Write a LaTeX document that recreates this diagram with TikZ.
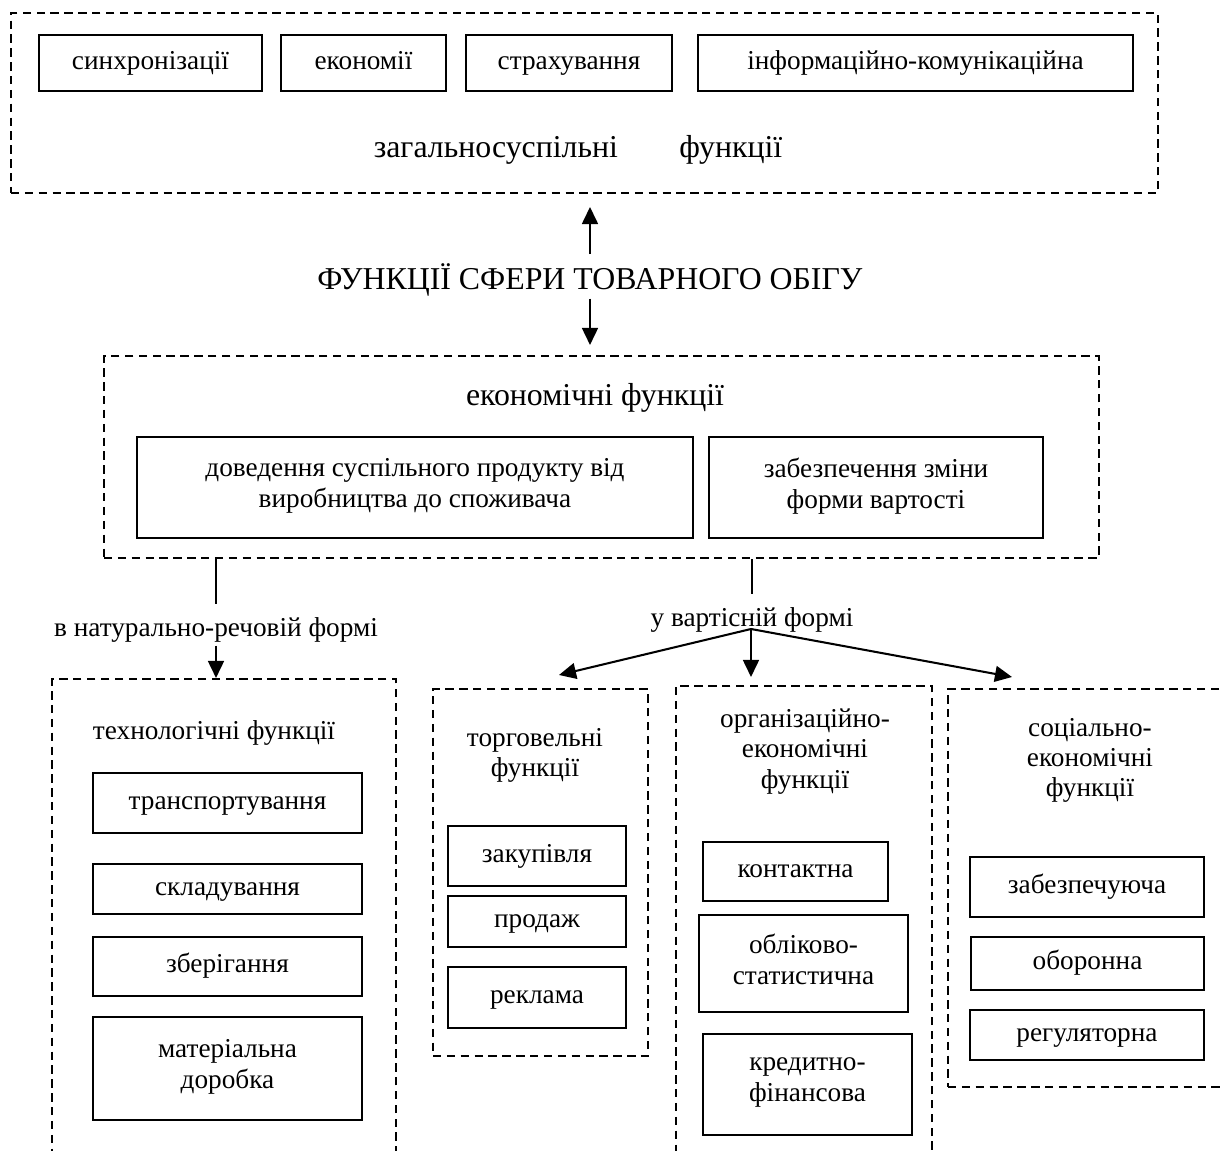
\documentclass[tikz,border=0pt]{standalone}
\usepackage{fontspec}
\setmainfont{Liberation Serif}
\usetikzlibrary{arrows.meta,fit}
\newcommand\solidnode[6]{\node[solidbox, minimum width={(#4-#2)*0.44pt}, minimum height={(#5-#3)*0.44pt}] (#1) at ({(#2+#4)/2},{(#3+#5)/2}) {#6};}
\begin{document}
\begin{tikzpicture}[x=0.44pt,y=-0.44pt,
  strutted/.style={execute at begin node=\strut, execute at end node=\strut},
  solidbox/.style={draw, line width=0.9pt, inner sep=0pt, align=center, font=\fontsize{12}{13.6}\selectfont, strutted},
  frame/.style={draw, line width=0.9pt, dash pattern=on 3.7pt off 2.4pt, inner sep=0pt},
  lbl/.style={inner sep=0pt, align=center, font=\fontsize{12}{13.4}\selectfont, strutted},
  biglbl/.style={inner sep=0pt, align=center, font=\fontsize{14}{16}\selectfont, strutted},
  conn/.style={line width=0.9pt},
  arr/.style={line width=0.9pt, -{Triangle[length=7.5pt,width=7pt]}}]
\useasboundingbox (0,0) rectangle (1220,1151);
\clip (0,0) rectangle (1220,1151);

% top frame: general social functions
\node[frame, fit={(11,13)(1158,193)}] (topframe) {};
\solidnode{sync}{39}{35}{262}{91}{синхронізації}
\solidnode{econ}{281}{35}{446}{91}{економії}
\solidnode{insur}{466}{35}{672}{91}{страхування}
\solidnode{info}{698}{35}{1133}{91}{інформаційно-комунікаційна}
\node[biglbl] (general) at (578,150) {загальносуспільні\hspace{27pt}функції};

% title
\node[biglbl] (title) at (590,282) {ФУНКЦІЇ СФЕРИ ТОВАРНОГО ОБІГУ};

% economic functions frame
\node[frame, fit={(104,356)(1099,558)}] (ecoframe) {};
\node[biglbl] (ecolbl) at (595,398) {економічні функції};
\solidnode{dov}{137}{437}{693}{538}{доведення суспільного продукту від\\виробництва до споживача}
\solidnode{zab}{709}{437}{1043}{538}{забезпечення зміни\\форми вартості}

% branch labels
\node[lbl] (nat) at (216,630) {в натурально-речовій формі};
\node[lbl] (vart) at (752,620) {у вартісній формі};

% technological functions
\node[frame, fit={(52,679)(396,1185)}] (tech) {};
\node[lbl] (techlbl) at (214,733) {технологічні функції};
\solidnode{transp}{93}{773}{362}{833}{транспортування}
\solidnode{sklad}{93}{864}{362}{914}{складування}
\solidnode{zber}{93}{937}{362}{996}{зберігання}
\solidnode{mater}{93}{1017}{362}{1120}{матеріальна\\доробка}

% trade functions
\node[frame, fit={(433,689)(648,1056)}] (trade) {};
\node[lbl] (tradelbl) at (535,757) {торговельні\\функції};
\solidnode{zak}{448}{826}{626}{886}{закупівля}
\solidnode{prod}{448}{896}{626}{947}{продаж}
\solidnode{rekl}{448}{967}{626}{1028}{реклама}

% organisational-economic functions
\node[frame, fit={(676,686)(932,1185)}] (org) {};
\node[lbl] (orglbl) at (805,753) {організаційно-\\економічні\\функції};
\solidnode{kont}{703}{842}{888}{901}{контактна}
\solidnode{oblik}{699}{915}{908}{1012}{обліково-\\статистична}
\solidnode{kred}{703}{1034}{912}{1135}{кредитно-\\фінансова}

% social-economic functions
\node[frame, fit={(948,689)(1245,1087)}] (soc) {};
\node[lbl] (soclbl) at (1090,762) {соціально-\\економічні\\функції};
\solidnode{zabez}{970}{857}{1204}{917}{забезпечуюча}
\solidnode{obor}{971}{937}{1204}{990}{оборонна}
\solidnode{regul}{970}{1010}{1204}{1060}{регуляторна}

% connectors
\draw[arr, shorten <=4pt, shorten >=5.7pt] (title.north) -- (title.north |- topframe.south);
\draw[arr, shorten <=-1pt, shorten >=4.4pt] (title.south) -- (title.south |- ecoframe.north);
\draw[conn, shorten >=4.5pt] (nat.north |- ecoframe.south) -- (nat.north);
\draw[arr] (nat.south) -- (nat.south |- tech.north);
\draw[conn, shorten >=4.5pt] (vart.north |- ecoframe.south) -- (vart.north);
\coordinate (vs) at (751,629);
\coordinate (t1) at (559,675);
\coordinate (t2) at (751,677);
\coordinate (t3) at (1012,677);
\draw[arr] (vs) -- (t1);
\draw[arr] (vs) -- (t2);
\draw[arr] (vs) -- (t3);
\end{tikzpicture}
\end{document}
